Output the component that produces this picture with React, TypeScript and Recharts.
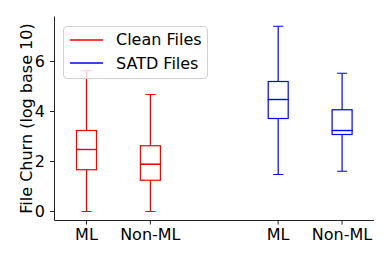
import { BarChart, Bar, XAxis, YAxis, Legend } from 'recharts';

const categories = ['ML', 'Non-ML', '', 'ML', 'Non-ML'];
const groups = ['Clean Files', 'Clean Files', '', 'SATD Files', 'SATD Files'];
const mins = [0, 0, null, 1.48, 1.61];
const q1s = [1.67, 1.25, null, 3.72, 3.08];
const medians = [2.48, 1.89, null, 4.48, 3.24];
const q3s = [3.24, 2.63, null, 5.2, 4.07];
const maxs = [5.63, 4.68, null, 7.41, 5.53];
const yTicks = [0, 2, 4, 6];
const seriesNames = ['Clean Files', 'SATD Files'];

const COLORS: Record<string, string> = { 'Clean Files': '#ff0000', 'SATD Files': '#0000ff' };
const FONT = '"DejaVu Sans", sans-serif';
const AXIS = '#222';

// stacked segments: invisible base, lower whisker, lower box half, upper box half, upper whisker
const data = categories.map((name, i) => {
  const lo = mins[i], a = q1s[i], m = medians[i], b = q3s[i], hi = maxs[i];
  if (lo == null || a == null || m == null || b == null || hi == null) return { name, group: groups[i] };
  return {
    name,
    group: groups[i],
    base: lo,
    lowWhisker: a - lo,
    lowBox: m - a,
    highBox: b - m,
    highWhisker: hi - b,
  };
});

const Empty = () => <g />;

const whisker = (capAtTop: boolean) => (props: any) => {
  const { x, y, width, height, payload } = props;
  if (payload == null || !payload.group || isNaN(y)) return <g />;
  const c = COLORS[payload.group];
  const cx = x + width / 2;
  const capY = capAtTop ? y : y + height;
  return (
    <g stroke={c} strokeWidth={1.2}>
      <line x1={cx} x2={cx} y1={y} y2={y + height} />
      <line x1={cx - width / 4} x2={cx + width / 4} y1={capY} y2={capY} />
    </g>
  );
};

const BoxHalf = (props: any) => {
  const { x, y, width, height, payload } = props;
  if (payload == null || !payload.group || isNaN(y)) return <g />;
  return <rect x={x} y={y} width={width} height={height} fill="none" stroke={COLORS[payload.group]} strokeWidth={1.2} />;
};

const XTick = (props: any) => {
  const { x, y, payload } = props;
  if (!payload || !payload.value) return <g />;
  return (
    <g>
      <line x1={x} x2={x} y1={y} y2={y + 4} stroke={AXIS} />
      <text x={x} y={y + 8} dy="0.71em" textAnchor="middle" fill="#000" fontSize={16} fontFamily={FONT}>
        {payload.value}
      </text>
    </g>
  );
};

const LegendBox = () => (
  <div
    style={{
      boxSizing: 'border-box',
      width: 145,
      height: 53,
      border: '1px solid #d0d0d0',
      borderRadius: 4,
      background: 'rgba(255,255,255,0.8)',
      padding: '1px 0 0 6px',
      fontFamily: FONT,
      fontSize: 16,
      color: '#000',
    }}
  >
    {seriesNames.map((n) => (
      <div key={n} style={{ display: 'flex', alignItems: 'center', height: 23.4 }}>
        <svg width={33} height={4} style={{ marginRight: 13, display: 'block' }}>
          <line x1={0} x2={33} y1={2} y2={2} stroke={COLORS[n]} strokeWidth={1.3} />
        </svg>
        <span>{n}</span>
      </div>
    ))}
  </div>
);

export default function App() {
  return (
    <div style={{ width: 392, height: 262 }}>
      <style>{'body{margin:0}'}</style>
      <BarChart width={392} height={262} data={data} barSize={20} margin={{ top: 16.5, right: 18, bottom: 11.5, left: 0.5 }}>
        <XAxis
          dataKey="name"
          height={30}
          stroke={AXIS}
          tickLine={false}
          tickSize={0}
          tickMargin={0}
          tick={XTick}
          interval={0}
        />
        <YAxis
          type="number"
          width={54}
          domain={[-0.36, 7.8]}
          allowDataOverflow
          ticks={yTicks}
          stroke={AXIS}
          tickSize={4.5}
          tickMargin={5}
          tick={{ fill: '#000', fontSize: 16, fontFamily: FONT }}
          label={{
            value: 'File Churn (log base 10)',
            angle: -90,
            position: 'center',
            dx: -1.5,
            style: { fill: '#000', fontSize: 16, fontFamily: FONT, textAnchor: 'middle' },
          }}
        />
        <Legend
          layout="vertical"
          align="center"
          verticalAlign="middle"
          wrapperStyle={{ left: 63, top: 26, width: 145, height: 53 }}
          content={() => <LegendBox />}
        />
        <Bar dataKey="base" stackId="box" shape={Empty} isAnimationActive={false} legendType="none" />
        <Bar dataKey="lowWhisker" stackId="box" shape={whisker(false)} isAnimationActive={false} legendType="none" />
        <Bar dataKey="lowBox" stackId="box" shape={BoxHalf} isAnimationActive={false} legendType="none" />
        <Bar dataKey="highBox" stackId="box" shape={BoxHalf} isAnimationActive={false} legendType="none" />
        <Bar dataKey="highWhisker" stackId="box" shape={whisker(true)} isAnimationActive={false} legendType="none" />
      </BarChart>
    </div>
  );
}
